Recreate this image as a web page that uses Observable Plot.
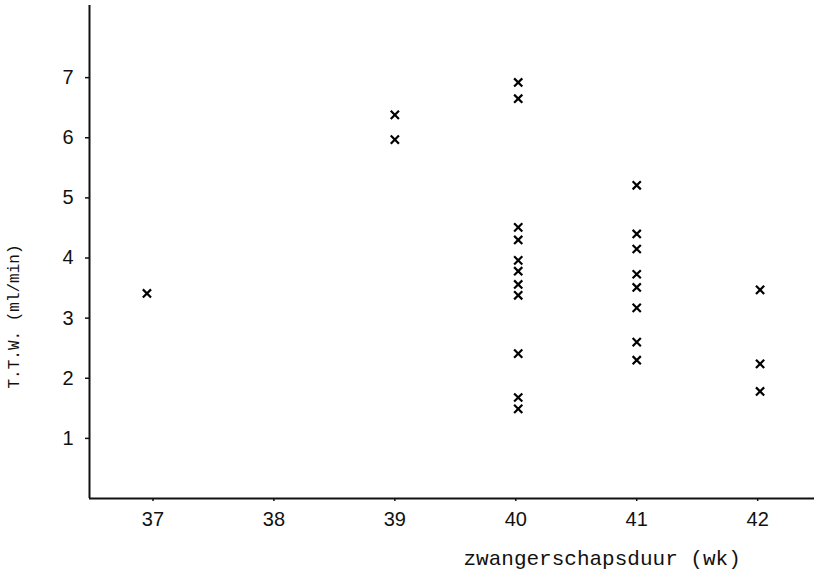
<!DOCTYPE html>
<html>
<head>
<meta charset="utf-8">
<script src="https://cdn.jsdelivr.net/npm/d3@7"></script>
<script src="https://cdn.jsdelivr.net/npm/@observablehq/plot@0.6"></script>
<style>
  body { margin: 0; background: #fff; }
</style>
</head>
<body>
<div id="chart"></div>
<script>
// Gestational age (weeks) and T.T.W. (ml/min), one entry per measurement
const weeks = [
  36.95,
  39, 39,
  40.02, 40.02, 40.02, 40.02, 40.02, 40.02, 40.02, 40.02, 40.02, 40.02, 40.02,
  41, 41, 41, 41, 41, 41, 41, 41,
  42.02, 42.02, 42.02
];
const ttw = [
  3.41,
  6.38, 5.97,
  6.92, 6.65, 4.51, 4.30, 3.96, 3.78, 3.56, 3.38, 2.41, 1.68, 1.49,
  5.21, 4.40, 4.15, 3.73, 3.51, 3.17, 2.60, 2.30,
  3.47, 2.24, 1.78
];

const xTicks = [37, 38, 39, 40, 41, 42];
const yTicks = [1, 2, 3, 4, 5, 6, 7];
const xDomain = [36.475, 42.47];
const yDomain = [0, 8.2];
const xTitle = "zwangerschapsduur (wk)";
const yTitle = "T.T.W. (ml/min)";

const points = weeks.map((w, i) => ({week: w, ttw: ttw[i]}));

const mono = "'Liberation Mono', 'DejaVu Sans Mono', monospace";
const whole = d3.format("d");

const chart = Plot.plot({
  width: 814,
  height: 577,
  marginLeft: 89,
  marginRight: 0,
  marginTop: 5,
  marginBottom: 79,
  x: {domain: xDomain},
  y: {domain: yDomain},
  style: {
    fontFamily: "'Liberation Sans', 'DejaVu Sans', sans-serif",
    color: "#111",
    background: "#fff"
  },
  marks: [
    Plot.axisX(xTicks, {tickSize: 3, tickPadding: 10, fontSize: 20, strokeWidth: 1.5, tickFormat: whole, label: null}),
    Plot.axisY(yTicks, {tickSize: 4, tickPadding: 12, fontSize: 20, strokeWidth: 1.5, tickFormat: whole, label: null}),
    // axis lines
    Plot.ruleX([xDomain[0]], {stroke: "#111", strokeWidth: 2}),
    Plot.ruleY([yDomain[0]], {stroke: "#111", strokeWidth: 2}),
    // measurements
    Plot.dot(points, {
      x: "week",
      y: "ttw",
      symbol: "times",
      r: 3.8,
      stroke: "#000",
      strokeWidth: 2.2
    }),
    // axis titles
    Plot.text([xTitle], {
      frameAnchor: "bottom-left",
      textAnchor: "start",
      lineAnchor: "middle",
      dx: 374,
      dy: 60,
      fontSize: 21,
      fontFamily: mono,
      fill: "#111"
    }),
    Plot.text([yTitle], {
      frameAnchor: "left",
      textAnchor: "middle",
      lineAnchor: "middle",
      rotate: -90,
      dx: -76,
      dy: 64.5,
      fontSize: 16,
      fontFamily: mono,
      fill: "#111"
    })
  ]
});

document.getElementById("chart").appendChild(chart);
</script>
</body>
</html>
